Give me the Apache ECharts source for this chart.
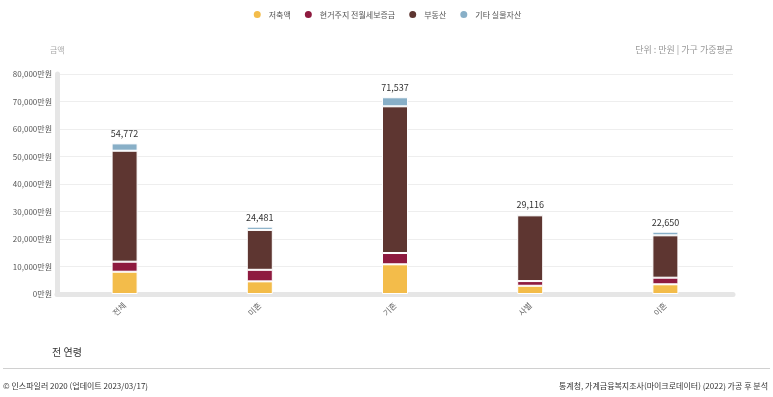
<!DOCTYPE html>
<html lang="ko">
<head>
  <meta charset="utf-8">
  <title>demo</title>
  <script src="https://cdn.jsdelivr.net/npm/echarts@6/dist/echarts.min.js"></script>
</head>
<body style="margin:0;background:#fff">
<div id="container" style="width:773px;height:397px"></div>
<script type="text/javascript">
  var categories = ['전체', '미혼', '기혼', '사별', '이혼'];
  var seriesNames = ['저축액', '현거주지 전월세보증금', '부동산', '기타 실물자산'];
  var savings  = [8100, 4600, 10800, 3000, 3530];
  var deposit  = [3650, 4200, 4100, 1700, 2400];
  var estate   = [40350, 14500, 53350, 23900, 15400];
  var otherAst = [2672, 1181, 3287, 516, 1320];
  var totals   = [54772, 24481, 71537, 29116, 22650];
  var colors = ['#f3bc4a', '#8e1a3f', '#5e3631', '#88afc7'];

  var dom = document.getElementById('container');
  var myChart = echarts.init(dom);
  var font = "'Noto Sans CJK KR', 'Noto Sans', sans-serif";

  function bar(name, data, idx) {
    var s = {
      name: name,
      type: 'bar',
      stack: 'total',
      barWidth: 26,
      data: data,
      itemStyle: { color: colors[idx], borderColor: '#fff', borderWidth: 1 }
    };
    if (idx === 3) {
      s.label = {
        show: true,
        position: 'top',
        distance: 5,
        color: '#333',
        fontSize: 9,
        fontFamily: font,
        formatter: function (p) {
          return totals[p.dataIndex].toLocaleString('en-US');
        }
      };
    }
    return s;
  }

  var option = {
    animation: false,
    textStyle: { fontFamily: font },
    legend: {
      top: 4,
      left: 'center',
      icon: 'circle',
      itemWidth: 9,
      itemHeight: 9,
      itemGap: 12,
      textStyle: { color: '#555', fontSize: 8, fontFamily: font, padding: [0, 0, 0, 2] }
    },
    grid: { left: 57, right: 40, top: 74, bottom: 103 },
    xAxis: {
      type: 'category',
      data: categories,
      axisLine: { lineStyle: { color: '#e6e6e6', width: 5 } },
      axisTick: { show: false },
      axisLabel: { rotate: 45, color: '#666', fontSize: 8, margin: 10, fontFamily: font }
    },
    yAxis: {
      type: 'value',
      min: 0,
      max: 80000,
      interval: 10000,
      axisLine: { show: true, lineStyle: { color: '#e6e6e6', width: 5 } },
      axisTick: { show: false },
      splitLine: { lineStyle: { color: '#eeeeee' } },
      axisLabel: {
        color: '#555',
        fontSize: 8,
        margin: 5,
        fontFamily: font,
        formatter: function (v) { return v.toLocaleString('en-US') + '만원'; }
      }
    },
    graphic: [
      { type: 'text', left: 50, top: 46, style: { text: '금액', fill: '#aaa', fontSize: 8, fontFamily: font } },
      { type: 'text', right: 40, top: 45, style: { text: '단위 : 만원 | 가구 가중평균', fill: '#999', fontSize: 9, fontFamily: font } },
      { type: 'text', left: 52, top: 347, style: { text: '전 연령', fill: '#333', fontSize: 10, fontFamily: font } },
      { type: 'rect', shape: { x: 3, y: 368, width: 767, height: 1 }, style: { fill: '#d0d0d0' } },
      { type: 'text', left: 3, top: 382, style: { text: '© 인스파일러 2020 (업데이트 2023/03/17)', fill: '#333', fontSize: 8, fontFamily: font } },
      { type: 'text', right: 5, top: 382, style: { text: '통계청, 가계금융복지조사(마이크로데이터) (2022) 가공 후 분석', fill: '#333', fontSize: 8, fontFamily: font } }
    ],
    series: [
      bar(seriesNames[0], savings, 0),
      bar(seriesNames[1], deposit, 1),
      bar(seriesNames[2], estate, 2),
      bar(seriesNames[3], otherAst, 3)
    ]
  };

  myChart.setOption(option);
</script>
</body>
</html>
